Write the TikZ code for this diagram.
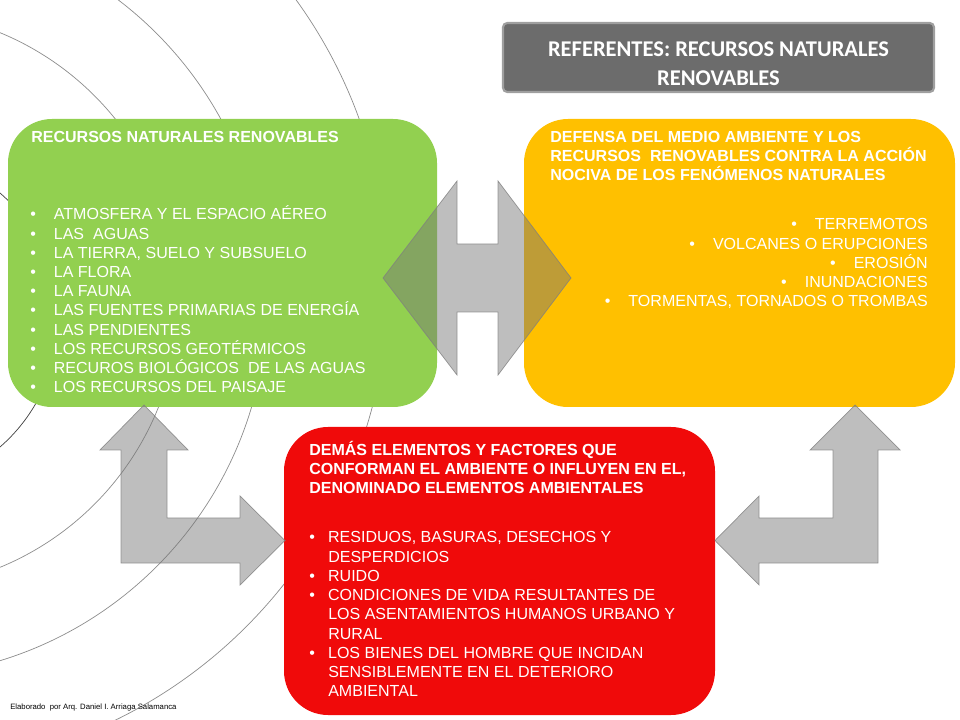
\documentclass[tikz,border=0pt]{standalone}
\usepackage{fontspec}
\setmainfont{Liberation Sans}
\newfontfamily\titlefont{Carlito}

\definecolor{verde}{RGB}{146,208,80}
\definecolor{naranja}{RGB}{255,192,0}
\definecolor{rojo}{RGB}{240,10,10}
\definecolor{flecha}{RGB}{117,117,117}
\definecolor{arco}{RGB}{140,140,140}
\definecolor{titulo}{RGB}{108,108,108}

\newcommand{\pto}{\textbullet\hspace{12.8pt}}
\newcommand{\ptr}{\textbullet\hspace{9.4pt}}

\begin{document}
\begin{tikzpicture}[x=0.025cm, y=-0.025cm,
  txt/.style={text=white, inner sep=0pt, font=\fontsize{11.4}{13.6}\selectfont},
  head/.style={txt, font=\fontsize{11.4}{13.6}\selectfont\bfseries},
  tit/.style={text=white, inner sep=0pt, font=\titlefont\bfseries\fontsize{16}{20.6}\selectfont},
  blockarrow/.style={fill=flecha, fill opacity=0.47, draw=gray, draw opacity=0.8, line width=0.5pt}]

\useasboundingbox (0,0) rectangle (960,720);

% Background arcs
\begin{scope}
\clip (0,0) rectangle (960,720);
\draw[black!75, line width=0.5pt] (-110,320) circle[radius=168];
\draw[arco, line width=0.5pt] (-110,300) circle[radius=289];
\draw[arco, line width=0.5pt] (-110,300) circle[radius=377];
\draw[arco, line width=0.5pt] (-97,284) circle[radius=485];
\end{scope}

% Title
\draw[fill=titulo, draw=gray!75, line width=1.5pt, rounded corners=3pt] (503,23) rectangle (934,92);
\node[tit, anchor=base] (t1) at (718.5,57) {REFERENTES: RECURSOS NATURALES};
\node[tit, anchor=base] (t2) at (718.5,86) {RENOVABLES};

% Boxes
\fill[verde, rounded corners=1.1cm] (8,119) rectangle (437,407);
\fill[naranja, rounded corners=1.1cm] (524,119) rectangle (955,407);
\fill[rojo, rounded corners=1.1cm] (284,427) rectangle (715,715);

% Recursos naturales renovables
\node[head, anchor=base west] (v0) at (31,143) {RECURSOS NATURALES RENOVABLES};
\node[txt, anchor=base west] (v1) at (30,220) {\pto ATMOSFERA Y EL ESPACIO AÉREO};
\node[txt, anchor=base west] (v2) at (30,239.2) {\pto LAS\ \ AGUAS};
\node[txt, anchor=base west] (v3) at (30,258.4) {\pto LA TIERRA, SUELO Y SUBSUELO};
\node[txt, anchor=base west] (v4) at (30,277.6) {\pto LA FLORA};
\node[txt, anchor=base west] (v5) at (30,296.8) {\pto LA FAUNA};
\node[txt, anchor=base west] (v6) at (30,316) {\pto LAS FUENTES PRIMARIAS DE ENERGÍA};
\node[txt, anchor=base west] (v7) at (30,335.2) {\pto LAS PENDIENTES};
\node[txt, anchor=base west] (v8) at (30,354.4) {\pto LOS RECURSOS GEOTÉRMICOS};
\node[txt, anchor=base west] (v9) at (30,373.6) {\pto RECUROS BIOLÓGICOS\ \ DE LAS AGUAS};
\node[txt, anchor=base west] (v10) at (30,392.8) {\pto LOS RECURSOS DEL PAISAJE};

% Defensa del medio ambiente
\node[head, anchor=base west] (n0) at (550,143) {DEFENSA DEL MEDIO AMBIENTE Y LOS};
\node[head, anchor=base west] (n00) at (550,162) {RECURSOS\ \ RENOVABLES CONTRA LA ACCIÓN};
\node[head, anchor=base west] (n000) at (550,181) {NOCIVA DE LOS FENÓMENOS NATURALES};
\node[txt, anchor=base east] (n1) at (928,230) {\pto TERREMOTOS};
\node[txt, anchor=base east] (n2) at (928,249.2) {\pto VOLCANES O ERUPCIONES};
\node[txt, anchor=base east] (n3) at (928,268.4) {\pto EROSIÓN};
\node[txt, anchor=base east] (n4) at (928,287.6) {\pto INUNDACIONES};
\node[txt, anchor=base east] (n5) at (928,306.8) {\pto TORMENTAS, TORNADOS O TROMBAS};

% Elementos ambientales
\node[head, anchor=base west] (r0) at (309,456) {DEMÁS ELEMENTOS Y FACTORES QUE};
\node[head, anchor=base west] (r00) at (309,475) {CONFORMAN EL AMBIENTE O INFLUYEN EN EL,};
\node[head, anchor=base west] (r000) at (309,494) {DENOMINADO ELEMENTOS AMBIENTALES};
\node[txt, anchor=base west] (r1) at (309,543) {\ptr RESIDUOS, BASURAS, DESECHOS Y};
\node[txt, anchor=base west] (r1b) at (328,562.2) {DESPERDICIOS};
\node[txt, anchor=base west] (r2) at (309,581.4) {\ptr RUIDO};
\node[txt, anchor=base west] (r3) at (309,600.6) {\ptr CONDICIONES DE VIDA RESULTANTES DE};
\node[txt, anchor=base west] (r3b) at (328,619.8) {LOS ASENTAMIENTOS HUMANOS URBANO Y};
\node[txt, anchor=base west] (r3c) at (328,639) {RURAL};
\node[txt, anchor=base west] (r4) at (309,658.2) {\ptr LOS BIENES DEL HOMBRE QUE INCIDAN};
\node[txt, anchor=base west] (r4b) at (328,677.4) {SENSIBLEMENTE EN EL DETERIORO};
\node[txt, anchor=base west] (r4c) at (328,696.6) {AMBIENTAL};

% Arrows
\draw[blockarrow] (383,278) -- (457,181) -- (457,244) -- (498,244) -- (498,181) -- (571,278)
  -- (498,375) -- (498,312) -- (457,312) -- (457,375) -- cycle;
\draw[blockarrow] (144,405) -- (188,450) -- (167,450) -- (167,518) -- (240,518) -- (240,496)
  -- (285,540.5) -- (240,585) -- (240,563) -- (121,563) -- (121,450) -- (100,450) -- cycle;
\draw[blockarrow] (855,405) -- (900,450) -- (878,450) -- (878,563) -- (759,563) -- (759,585)
  -- (715,540.5) -- (759,496) -- (759,518) -- (833,518) -- (833,450) -- (810,450) -- cycle;

% Author
\node[anchor=base west, inner sep=0pt, font=\fontsize{5.5}{6}\selectfont] (autor) at (10,709)
  {Elaborado\ \ por Arq. Daniel I. Arriaga Salamanca};

\end{tikzpicture}
\end{document}
